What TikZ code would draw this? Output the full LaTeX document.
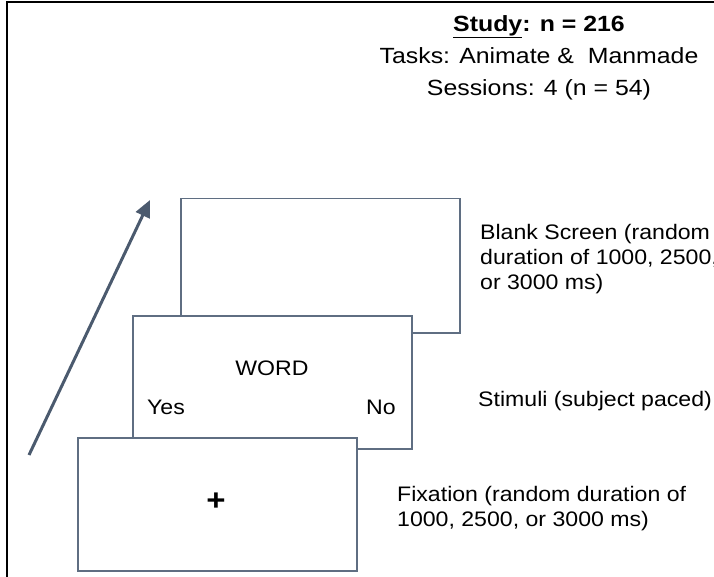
\documentclass[tikz,border=0pt]{standalone}
\usepackage{fontspec}
\setmainfont{Liberation Sans}[FakeStretch=1.1]
\newfontfamily\headfont{Liberation Sans}[FakeStretch=1.13]
\usetikzlibrary{arrows.meta}
\definecolor{boxline}{HTML}{5F6E82}
\definecolor{arrowc}{HTML}{4B5A6E}
\begin{document}
\begin{tikzpicture}[x=1pt,y=-1pt,
  screen/.style={draw=boxline, line width=1.5pt, fill=white, anchor=north west,
    minimum width=279pt, minimum height=133pt, inner sep=0pt},
  txt/.style={font=\fontsize{21}{25}\selectfont, inner sep=0pt},
  note/.style={txt, align=left, anchor=west},
  frameline/.style={black, line width=2.2pt}]
\useasboundingbox (0,0) rectangle (714,577);
\clip (0,0) rectangle (714,577);

% frame along the top and left edges
\coordinate (fb) at (7,578);
\coordinate (fc) at (7,2);
\coordinate (fr) at (716,2);
\draw[frameline] (fb) -- (fc) -- (fr);

% study header
\node[inner sep=0pt, align=center, font=\headfont\fontsize{22}{32}\selectfont] (head) at (539,58)
  {\textbf{\underline{Study}: n = 216}\\Tasks: Animate \&\ \ Manmade\\Sessions: 4 (n = 54)};

% the three stacked screens, back to front
\node[screen, minimum height=134pt] (blank) at (180,198) {};
\node[screen] (word) at (132,315) {};
\node[screen] (fix) at (77,437) {};

% screen contents
\node[txt] (w) at (272,368) {WORD};
\node[txt] (yes) at (166,407) {Yes};
\node[txt] (no) at (381,407) {No};
\node[font=\fontsize{30}{30}\selectfont\bfseries, inner sep=0pt] (plus) at (216,502) {+};

% descriptions
\node[note] (dblank) at (480,259) {Blank Screen (random\\duration of 1000, 2500,\\or 3000 ms)};
\node[note] (dword) at (478,401) {Stimuli (subject paced)};
\node[note] (dfix) at (397,509) {Fixation (random duration of\\1000, 2500, or 3000 ms)};

% time arrow
\coordinate (t0) at (29,455);
\coordinate (t1) at (150,200);
\draw[arrowc, line width=3pt, -{Triangle[length=17pt,width=15pt]}] (t0) -- (t1);
\end{tikzpicture}
\end{document}
